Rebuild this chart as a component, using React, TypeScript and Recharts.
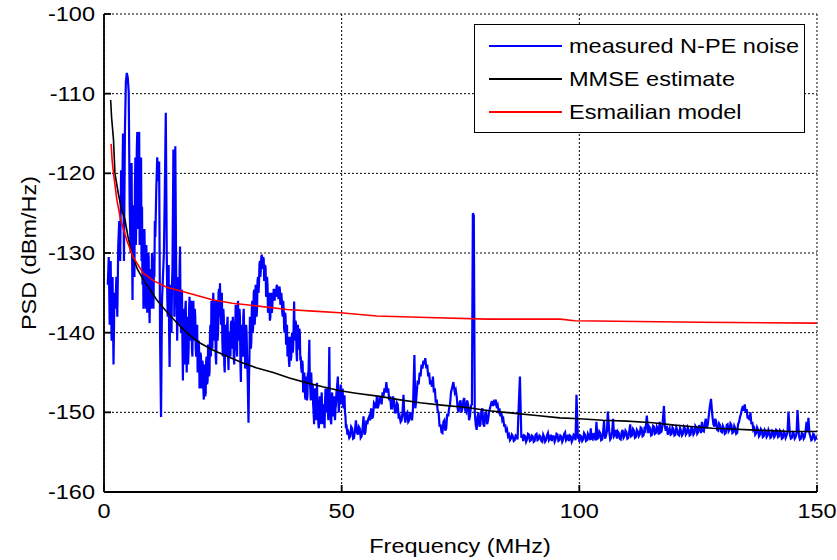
import React from 'react';
import { LineChart, Line, XAxis, YAxis, CartesianGrid, Legend } from 'recharts';

// ---- Data ----
const xTicks = [0, 50, 100, 150];
const yTicks = [-160, -150, -140, -130, -120, -110, -100];

const seriesNames = ['measured N-PE noise', 'MMSE estimate', 'Esmailian model'];
const seriesColors = ['#0000ff', '#000000', '#ff0000'];

// measured N-PE noise: [frequency MHz, PSD dBm/Hz]
const measuredNoise: [number, number][] = [
  [0.8,-134],[1.0,-130.5],[1.2,-139],[1.4,-131],[1.6,-141],[1.8,-133],[2.0,-144],[2.2,-135],[2.4,-137],[2.6,-133],[2.8,-138],[3.0,-129],
  [3.2,-126],[3.4,-131],[3.6,-119.6],[3.8,-125],[4.0,-115],[4.2,-131],[4.4,-114.8],[4.6,-108.5],[4.8,-107.4],[5.0,-108],[5.2,-109.8],[5.4,-124],[5.6,-130],
  [5.7,-121],[5.8,-118.7],[5.9,-129],[6.0,-135.9],[6.1,-126],[6.2,-124],[6.3,-131],[6.4,-133],[6.5,-122],[6.6,-118],[6.7,-129],[6.8,-126],[6.9,-117],[7.0,-114.8],[7.1,-127],[7.2,-121],[7.3,-116],[7.4,-114.8],[7.5,-129],[7.6,-126],[7.7,-120],[7.8,-118],[7.9,-131],[8.0,-124.2],[8.1,-134],[8.2,-128],[8.3,-137],
  [8.4,-133],[8.5,-127],[8.6,-130.5],[8.7,-135],[8.8,-137],[8.9,-129],[9.0,-131],[9.1,-137.5],[9.2,-136],[9.3,-130],[9.4,-130.5],[9.5,-136],[9.6,-138.8],[9.7,-133],[9.8,-132],[9.9,-137],[10.0,-135],[10.1,-130],[10.2,-131],[10.3,-136],[10.4,-137],[10.5,-132],[10.6,-133],[10.7,-126],
  [10.8,-128],[11.0,-122],[11.2,-118],[11.4,-121],[11.6,-118.5],[11.8,-140.9],[12.0,-150.6],[12.2,-136],[12.4,-133],
  [12.6,-130],[12.8,-122],[13.0,-112.4],[13.2,-130],[13.3,-135],[13.4,-138],[13.5,-133],[13.6,-131.5],[13.7,-140],[13.8,-144.3],[13.9,-137],[14.0,-134],[14.1,-139],[14.2,-140],[14.3,-134],[14.4,-132],[14.5,-125],
  [14.6,-117],[14.8,-138],[15.0,-116.6],[15.2,-134],[15.3,-137],
  [15.4,-141],[15.5,-136],[15.6,-133],[15.7,-139],[15.8,-138],[15.9,-132],[16.0,-129.2],[16.1,-137],[16.2,-140],[16.3,-135],[16.4,-134.6],[16.5,-141],[16.6,-146],[16.7,-139],[16.8,-137],[16.9,-144],[17.0,-143],[17.1,-137],[17.2,-136],[17.3,-142],[17.4,-145],[17.5,-140],[17.6,-138],[17.7,-144],[17.8,-142],[17.9,-137],
  [18.0,-135.5],[18.1,-139],[18.2,-141],[18.3,-136],[18.4,-137],[18.5,-142],[18.6,-143],[18.7,-138],[18.8,-136],[18.9,-140],[19.0,-141],[19.1,-137],[19.2,-138],[19.3,-142],[19.4,-143],[19.5,-140],[19.6,-139],[19.7,-145],
  [19.8,-144],[19.9,-141],[20.0,-142],[20.1,-147],[20.2,-146],[20.3,-142.5],[20.4,-143],[20.5,-146.5],[20.6,-147],[20.7,-143.5],[20.8,-144],[20.9,-147],[21.0,-148.4],[21.1,-144],[21.2,-145],[21.3,-148],[21.4,-147.5],[21.5,-143.5],[21.6,-143],[21.7,-146.5],[21.8,-146],[21.9,-141.5],[22.0,-142],[22.1,-145.5],[22.2,-145],[22.3,-140],[22.4,-139],[22.5,-143],
  [22.6,-136],[22.7,-141],[22.8,-142],[22.9,-136.5],[23.0,-135],[23.1,-140],[23.2,-141],[23.3,-136],[23.4,-137],[23.5,-143],[23.6,-144],[23.7,-138],[23.8,-136],[23.9,-141],[24.0,-140],[24.1,-135],[24.2,-134.5],[24.3,-138],[24.4,-133.8],[24.5,-137],[24.6,-139],[24.7,-136],[24.8,-135],[24.9,-141],[25.0,-143],[25.1,-137],[25.2,-138],[25.3,-144],[25.4,-145],[25.5,-140],
  [25.6,-139],[25.7,-142],[25.8,-143],[25.9,-139],[26.0,-138],[26.1,-143],[26.2,-144.7],[26.3,-140],[26.4,-140],[26.5,-142.5],[26.6,-143],[26.7,-139],[26.8,-138.5],[26.9,-141],[27.0,-142],[27.1,-138],[27.2,-139],[27.3,-143],[27.4,-144],[27.5,-139.5],[27.6,-140],[27.7,-136.5],
  [27.8,-137],[27.9,-142],[28.0,-143],[28.1,-137.5],[28.2,-136],[28.3,-140],[28.4,-141],[28.5,-137],[28.6,-138],[28.7,-144],[28.8,-146.2],[28.9,-140],[29.0,-139],[29.1,-142],[29.2,-143],[29.3,-138],[29.4,-137],[29.5,-140.5],[29.6,-141],[29.7,-144.5],[29.8,-144],[29.9,-139],
  [30.0,-140],[30.1,-143],[30.2,-145],[30.3,-148],[30.4,-151.3],[30.5,-146],[30.6,-143],[30.7,-138],[30.8,-139],[30.9,-142],
  [31.0,-141],[31.1,-137],[31.2,-136],[31.3,-140],[31.4,-139],[31.5,-135],[31.6,-134.6],[31.7,-139],[31.8,-138],[31.9,-134],[32.0,-135],[32.1,-138],[32.2,-137],[32.3,-133.5],[32.4,-133],[32.5,-135],
  [32.6,-134],[32.7,-131.5],[32.8,-131],[32.9,-133],[33.0,-132],[33.1,-130.5],[33.2,-130.2],[33.3,-132],[33.4,-131.5],[33.5,-130.5],[33.6,-130.8],[33.7,-133.5],[33.8,-133],[33.9,-131.5],[34.0,-132],[34.1,-135.5],[34.2,-135],
  [34.3,-133],[34.4,-134],[34.5,-137.5],[34.6,-137],[34.7,-135],[34.8,-136],[34.9,-138.5],[35.0,-138],[35.1,-135],[35.2,-135.5],[35.3,-137.5],[35.4,-137],[35.5,-135],[35.6,-136],[35.7,-134.5],
  [35.8,-135],[35.9,-136],[36.0,-134.5],[36.1,-135.5],[36.2,-135.2],[36.3,-134.2],[36.4,-134],[36.5,-135.5],[36.6,-134.3],[36.7,-135.8],[36.8,-135],[36.9,-134.2],[37.0,-134.6],[37.1,-136.5],[37.2,-136],[37.3,-135],[37.4,-135.8],[37.5,-137.5],[37.6,-138],
  [37.7,-136],[37.8,-137],[37.9,-139.5],[38.0,-140],[38.1,-137.5],[38.2,-138],[38.3,-141.5],[38.4,-141],
  [38.5,-139],[38.6,-143],[38.7,-141],[38.8,-140.5],[38.9,-143.5],[39.0,-144.3],[39.1,-140.5],[39.2,-141],[39.3,-143.5],[39.4,-143],[39.5,-140.5],[39.6,-140],[39.7,-142.5],[39.8,-142],
  [39.9,-139],[40.0,-136.1],[40.1,-140],[40.2,-141],[40.3,-138.5],[40.4,-139],[40.5,-142.5],[40.6,-143.6],[40.7,-139.5],[40.8,-139],[40.9,-142],[41.0,-142],[41.1,-139.5],[41.2,-140],[41.3,-143.5],[41.4,-143],
  [41.5,-144.5],[41.6,-145],[41.7,-143.5],[41.8,-144],[41.9,-147.5],[42.0,-147],[42.1,-145],[42.2,-145.5],[42.3,-148],[42.4,-148.4],
  [42.5,-145.5],[42.6,-146],[42.7,-148.5],[42.8,-148],[42.9,-145],[43.0,-145.5],[43.2,-140.9],[43.3,-146],[43.4,-147],[43.5,-148.5],[43.6,-145],[43.7,-147],[43.8,-148.4],
  [43.9,-146.5],[44.0,-149],[44.1,-150],[44.2,-151.5],[44.3,-148],[44.4,-147],[44.5,-150],[44.6,-151],[44.7,-148.5],[44.8,-146.3],[44.9,-149],[45.0,-150],[45.1,-151.5],[45.2,-152],[45.3,-149],[45.4,-148],[45.5,-150.5],[45.6,-151.5],[45.7,-149],[45.8,-147.5],[45.9,-149.5],[46.0,-150.5],[46.1,-151.5],[46.2,-149],[46.3,-150.5],[46.4,-152],[46.5,-149],[46.6,-147],
  [46.7,-149.5],[46.8,-150],[46.9,-148],[47.0,-147],[47.1,-150],[47.2,-151],[47.4,-141.8],[47.5,-148],[47.6,-149],[47.7,-151],[47.8,-151.5],[47.9,-148.5],[48.0,-147.5],[48.1,-150],[48.2,-150.5],[48.3,-148.5],[48.4,-148],[48.5,-150],[48.6,-151],[48.7,-149.5],[48.8,-149],[48.9,-147.5],[49.0,-147],[49.2,-145.5],[49.3,-148.5],[49.4,-150],
  [49.5,-149],[49.6,-148],[49.7,-147.5],[49.8,-146.5],[49.9,-148],[50.0,-149],[50.1,-147.5],[50.2,-147],[50.3,-149],[50.4,-149.5],[50.5,-148],[50.6,-148],[50.7,-150],[50.8,-150.5],[50.9,-152],[51.0,-151.5],[51.2,-152.8],
  [51.4,-152.5],[51.6,-153.2],[51.8,-153],[52.0,-151.8],[52.2,-152],[52.4,-153.3],[52.6,-153.2],[52.8,-152.2],[53.0,-151],[53.2,-152.5],[53.4,-152.8],[53.6,-151.8],[53.8,-152],[54.0,-153.2],[54.2,-153],[54.4,-152],[54.6,-150.5],[54.8,-152.8],[55.0,-152.5],[55.2,-151],[55.4,-151.5],[55.6,-150.8],
  [55.8,-150.5],[56.0,-151],[56.2,-149.5],[56.4,-150.8],[56.6,-150.5],[56.8,-148.8],[57.0,-149],[57.2,-149.5],[57.4,-148],[57.6,-149.5],[57.8,-149],[58.0,-148],[58.2,-148.5],[58.4,-149],[58.6,-147.5],[58.8,-148],[59.0,-147],[59.2,-147.5],[59.4,-146.2],[59.6,-147.5],[59.8,-147],[60.0,-148.5],
  [60.2,-148],[60.4,-149.5],[60.6,-149.5],[60.8,-148],[61.0,-148.5],[61.2,-150],[61.4,-150],[61.6,-148.8],[61.8,-149],[62.0,-150.8],
  [62.2,-150.5],[62.4,-151.2],[62.6,-151],[62.8,-150],[63.0,-147.8],[63.2,-150.5],[63.4,-151.3],[63.6,-150.2],[63.8,-150],[64.0,-151.2],[64.2,-151],[64.4,-150],[64.6,-150.5],[64.8,-151],
  [65.0,-149.5],[65.3,-142.8],[65.5,-149.5],[65.6,-149],[65.8,-147.5],[66.0,-146],
  [66.2,-146.5],[66.4,-145],[66.6,-145.5],[66.8,-144],[67.0,-144.5],[67.2,-143.5],[67.4,-144],[67.6,-143.2],[67.8,-144.5],[68.0,-144],[68.2,-145.5],[68.4,-145],
  [68.6,-146.5],[68.8,-146],[69.0,-146.8],[69.2,-145.5],[69.4,-147.5],[69.6,-147],[69.8,-148.8],[70.0,-148.4],
  [70.2,-149.8],[70.4,-150],[70.6,-151.8],[70.8,-151.5],[71.0,-152.5],[71.2,-152.6],[71.4,-151.2],[71.6,-151],[71.8,-152.3],[72.0,-152],[72.2,-150.2],[72.4,-150.5],[72.6,-149.5],[72.8,-149],
  [73.0,-147.5],[73.2,-147],[73.5,-146.2],[73.8,-147.5],[74.0,-147.2],[74.2,-148],[74.4,-149.5],[74.6,-150],
  [74.8,-148.8],[75.0,-148.5],[75.2,-150],[75.4,-149.5],[75.6,-148.5],[75.8,-148.2],[76.0,-149.8],[76.2,-150],[76.4,-148.5],[76.6,-149],[76.8,-151],[77.0,-150.5],[77.2,-149.2],[77.4,-149],
  [77.6,-125],[77.8,-125.3],[78.0,-150],
  [78.2,-151.5],[78.4,-152.2],[78.6,-150.5],[78.8,-150],[79.0,-151.8],[79.2,-151.5],[79.4,-149.8],[79.6,-149.5],[79.8,-151.5],[80.0,-151.8],[80.2,-150.2],[80.4,-150],[80.6,-151.5],[80.8,-151],
  [81.0,-150],[81.2,-149.5],[81.4,-149],[81.6,-148.6],[81.8,-149.2],[82.0,-148.7],[82.2,-148.9],[82.4,-148.4],[82.6,-149.2],[82.8,-149],[83.0,-149.8],[83.2,-149.5],
  [83.4,-150.5],[83.6,-150],[83.8,-151],[84.0,-150.8],[84.2,-151.8],[84.4,-151.5],[84.6,-152.5],[84.8,-152.2],[85.0,-153],[85.2,-152.8],[85.4,-153.5],[85.6,-153.3],[85.8,-152.8],[86.0,-153],[86.2,-153.6],[86.4,-153.5],[86.6,-152.9],[86.8,-153],[87.0,-153.4],
  [87.2,-150],[87.5,-145.5],[87.8,-153.2],
  [88.0,-152.8],[88.2,-153.6],[88.4,-152.9],[88.6,-153],[88.8,-153.7],[89.0,-153.4],[89.2,-152.7],[89.4,-152.8],[89.6,-153.6],[89.8,-153.5],[90.0,-152.9],[90.2,-153],[90.4,-153.7],[90.6,-153.6],[90.8,-152.8],[91.0,-152.7],[91.2,-153.5],[91.4,-153.4],[91.6,-152.9],[91.8,-153],[92.0,-153.6],[92.2,-153.7],[92.4,-152.8],[92.6,-153.1],[92.8,-153.7],[93.0,-153.5],[93.2,-152.9],[93.4,-152.6],[93.6,-153.5],[93.8,-153.3],
  [94.0,-152.8],[94.2,-153.6],[94.4,-153],[94.6,-153],[94.8,-153.7],[95.0,-153.4],[95.2,-152.7],[95.4,-152.8],[95.6,-153.6],[95.8,-153.5],[96.0,-152.9],[96.2,-153],[96.4,-153.7],[96.6,-153.4],[96.8,-152.7],[97.0,-152.5],[97.2,-153.5],[97.4,-153.3],[97.6,-152.8],[97.8,-153.6],[98.0,-152.9],[98.2,-153],[98.4,-153.7],[98.6,-153.4],[98.8,-152.8],[99.0,-152.9],[99.2,-153.5],[99.4,-147.8],[99.7,-153.3],
  [99.9,-152.8],[100.0,-153.7],[100.2,-152.9],[100.4,-153],[100.6,-153.6],[100.8,-153.4],[101.0,-152.6],[101.2,-152.8],[101.4,-153.6],[101.6,-153.5],[101.8,-152.7],[102.0,-153],[102.2,-153.5],[102.4,-152],[102.6,-153.3],[102.8,-153.4],[103.0,-152.6],[103.2,-153],[103.4,-153.5],[103.6,-151.2],[103.8,-153.3],[104.0,-153.2],[104.2,-152.4],[104.4,-152.6],[104.6,-153.5],[104.8,-153.4],[105.0,-152.5],[105.2,-151],[105.4,-153.3],[105.6,-153],[105.8,-152.4],[106.0,-149.9],[106.3,-152.5],[106.5,-153.4],[106.7,-153.2],[106.9,-152.4],[107.1,-150.8],[107.3,-153],[107.5,-152.8],[107.7,-152.2],[107.9,-153.3],[108.1,-152.4],[108.3,-152.6],[108.5,-153.3],[108.7,-153.4],[108.9,-152.5],[109.1,-152.2],[109.3,-153.2],[109.5,-153],[109.7,-152.3],[109.9,-152.5],
  [110.1,-153.3],[110.3,-153.2],[110.5,-152.4],[110.7,-151.5],[110.9,-153],[111.1,-152.9],[111.3,-152.1],[111.5,-152.3],[111.7,-153.2],[111.9,-153.1],[112.1,-152.2],[112.3,-152.4],[112.5,-153],[112.7,-152.8],[112.9,-151.9],[113.1,-152],[113.3,-153],[113.5,-152.9],[113.7,-152.1],[113.9,-152.3],[114.2,-150.4],[114.5,-152.6],[114.7,-151.8],[114.9,-152],[115.1,-152.9],[115.3,-152.8],[115.5,-151.7],[115.7,-151.8],[115.9,-152.7],[116.1,-152.6],[116.3,-151.8],[116.5,-152.1],[116.7,-152.8],[116.9,-151.2],[117.1,-152.5],[117.3,-152.4],[117.5,-151.5],[117.8,-149.2],[118.0,-151.8],[118.2,-152.3],[118.4,-151.7],[118.6,-152.8],[118.8,-152.3],[119.0,-152],[119.2,-152.8],[119.4,-152.7],[119.6,-151.9],[119.8,-152.1],
  [120.0,-152.9],[120.2,-152.8],[120.4,-151.9],[120.6,-152.2],[120.8,-152.8],[121.0,-152.9],[121.2,-152],[121.4,-152.3],[121.6,-152.9],[121.8,-152.7],[122.0,-151.8],[122.2,-152],[122.4,-152.8],[122.6,-152.6],[122.8,-151.9],[123.0,-152.2],[123.2,-152.9],[123.4,-152.8],[123.6,-151.8],[123.8,-152.1],[124.0,-152.8],[124.2,-152.6],[124.4,-151.7],[124.6,-151.9],[124.8,-152.7],[125.0,-152.5],[125.2,-151.6],[125.4,-152],[125.6,-152.6],[125.8,-151.2],[126.0,-152.3],[126.2,-152.4],[126.4,-151.4],[126.6,-150.8],[126.8,-152],[127.0,-151.6],[127.2,-150.6],[127.4,-149.5],[127.7,-148.3],[128.0,-150.5],[128.2,-151.5],[128.4,-151.8],[128.6,-150.8],[128.8,-151.2],[129.0,-152.2],[129.2,-152.3],[129.4,-151.4],[129.6,-151.6],[129.8,-152.4],
  [130.0,-152.5],[130.2,-151.7],[130.4,-152],[130.6,-152.7],[130.8,-152.6],[131.0,-151.6],[131.2,-151.5],[131.4,-152.4],[131.6,-152.2],[131.8,-151.4],[132.0,-151.6],[132.2,-152.6],[132.4,-152.5],[132.6,-151.7],[132.8,-152],[133.0,-152.7],[133.2,-152.6],[133.4,-151.5],[133.6,-151.2],[133.8,-150.6],[134.0,-150.2],[134.2,-149.6],[134.4,-149.2],[134.6,-149.8],[134.8,-149],[135.0,-150],[135.2,-149.6],[135.4,-150.8],[135.6,-150.4],[135.8,-151],[136.0,-150],[136.2,-151.5],[136.4,-151.2],[136.6,-152.2],[136.8,-152],[137.0,-152.8],[137.2,-152.6],[137.4,-151.9],[137.6,-152.2],[137.8,-153],[138.0,-152.8],[138.2,-152.1],[138.4,-152.3],[138.6,-153.1],[138.8,-153],[139.0,-152.2],[139.2,-152.4],[139.4,-153.1],[139.6,-152.9],[139.8,-152.2],
  [140.0,-152.5],[140.2,-153.2],[140.4,-153.1],[140.6,-152.3],[140.8,-152.4],[141.0,-153.1],[141.2,-152.9],[141.4,-152.2],[141.6,-152.3],[141.8,-153.1],[142.0,-153],[142.2,-152.3],[142.4,-152.5],[142.6,-153.3],[142.8,-153.2],[143.0,-152.4],[143.2,-152.6],[143.4,-153.2],[143.6,-152.9],[143.8,-152.4],[144.0,-149.9],[144.3,-152.8],[144.5,-153.3],[144.7,-153.2],[144.9,-152.5],[145.1,-152.6],[145.3,-153.3],[145.5,-153.1],[145.7,-152.6],[145.9,-149.7],[146.2,-152.9],[146.4,-153.4],[146.6,-153.3],[146.8,-152.6],[147.0,-152.7],[147.2,-153.3],[147.4,-153.1],[147.6,-152.4],[147.8,-151.2],[148.0,-152.5],[148.2,-150.7],[148.4,-152.6],[148.6,-153],[148.8,-153.5],[149.0,-153.4],[149.2,-152.7],[149.4,-152.8],[149.6,-153.4],[149.8,-153.2],[150.0,-153],
];

// MMSE estimate
const mmseEstimate: [number, number][] = [
  [1.4,-110.8],[1.6,-113],[2.0,-115.8],[2.3,-120],[3.0,-122.5],[3.6,-124.3],[4.4,-125.8],[5.0,-127.8],[5.8,-130],[7.0,-132],[8.5,-133.6],[9.7,-134.6],
  [11,-135.8],[12.5,-136.9],[14,-137.9],[16,-139.2],[18,-140.3],[20.2,-141.3],[23,-142.2],[26,-143],[29.2,-143.8],[32,-144.4],[35.6,-145],[39,-145.7],[42.7,-146.3],[46,-146.8],[49.7,-147.3],
  [53,-147.6],[58,-148],[62,-148.4],[66.5,-148.8],[71,-149.1],[76.4,-149.4],[81,-149.8],[86,-150.1],[91,-150.4],[95.9,-150.7],[100,-150.8],[105,-151],[110,-151.1],[115.5,-151.3],
  [120,-151.6],[124,-151.8],[128,-152],[132,-152.1],[136,-152.2],[140,-152.3],[144.3,-152.4],[150,-152.4],
];

// Esmailian model
const esmailianModel: [number, number][] = [
  [1.5,-116.3],[1.7,-118.3],[2.0,-120],[2.7,-123.3],[3.5,-125.8],[4.8,-128.4],[6.1,-130.5],[8.2,-132.5],[10.5,-133.5],[13.2,-134.3],[17.5,-135],[23,-135.9],[27,-136.3],[31.4,-136.6],
  [38.5,-137.1],[44,-137.3],[49.7,-137.5],[57.4,-137.9],[68,-138.1],[80.6,-138.3],[96,-138.3],[99,-138.5],[125.4,-138.7],[150,-138.8],
];

const toRows = (arr: [number, number][]) => arr.map(([f, v]) => ({ f, v }));

const FONT = '"Liberation Sans", Arial, Helvetica, sans-serif';
const FS = 21;
const SX = 1.12;

const YTick = (props: any) => (
  <text
    transform={`translate(95,${props.y + 7}) scale(${SX},1)`}
    textAnchor="end"
    fontSize={FS}
    fontFamily={FONT}
    fill="#000"
  >
    {props.payload.value}
  </text>
);

const XTick = (props: any) => (
  <text
    transform={`translate(${props.x},518) scale(${SX},1)`}
    textAnchor="middle"
    fontSize={FS}
    fontFamily={FONT}
    fill="#000"
  >
    {props.payload.value}
  </text>
);

const EmptyTick = () => <g />;

const XLabel = () => (
  <text
    transform={`translate(460,553) scale(${SX},1)`}
    textAnchor="middle"
    fontSize={FS}
    fontFamily={FONT}
    fill="#000"
  >
    Frequency (MHz)
  </text>
);

const YLabel = () => (
  <text
    transform={`translate(36,253) rotate(-90) scale(${SX},1)`}
    textAnchor="middle"
    fontSize={FS}
    fontFamily={FONT}
    fill="#000"
  >
    PSD (dBm/Hz)
  </text>
);

const LegendBox = () => (
  <div
    style={{
      width: 331,
      height: 109,
      boxSizing: 'border-box',
      border: '1.5px solid #000',
      background: '#fff',
      paddingTop: 4,
      fontFamily: FONT,
      fontSize: FS,
    }}
  >
    {seriesNames.map((name, i) => (
      <div key={name} style={{ display: 'flex', alignItems: 'center', height: 33 }}>
        <div style={{ marginLeft: 14, width: 73, height: 2, backgroundColor: seriesColors[i], flexShrink: 0 }} />
        <span
          style={{
            marginLeft: 7,
            color: '#000',
            whiteSpace: 'nowrap',
            display: 'inline-block',
            transform: `scaleX(${SX})`,
            transformOrigin: 'left center',
          }}
        >
          {name}
        </span>
      </div>
    ))}
  </div>
);

export default function App() {
  return (
    <div style={{ position: 'absolute', left: 0, top: 0 }}>
      <LineChart width={837} height={560} margin={{ top: 14, right: 20, left: 0, bottom: 0 }}>
        <CartesianGrid stroke="#000" strokeDasharray="2 2" strokeWidth={1} />
        <XAxis
          dataKey="f"
          type="number"
          domain={[0, 150]}
          ticks={xTicks}
          allowDataOverflow
          height={68}
          stroke="#000"
          strokeWidth={1.8}
          tickSize={-7}
          tick={<XTick />}
          label={<XLabel />}
        />
        <XAxis
          xAxisId="top"
          orientation="top"
          type="number"
          domain={[0, 150]}
          ticks={xTicks}
          height={0}
          stroke="#000"
          strokeWidth={1.8}
          tickSize={-7}
          tick={<EmptyTick />}
        />
        <YAxis
          type="number"
          domain={[-160, -100]}
          ticks={yTicks}
          allowDataOverflow
          width={104}
          stroke="#000"
          strokeWidth={1.8}
          tickSize={-7}
          tick={<YTick />}
          label={<YLabel />}
        />
        <YAxis
          yAxisId="right"
          orientation="right"
          type="number"
          domain={[-160, -100]}
          ticks={yTicks}
          width={0}
          stroke="#000"
          strokeWidth={1.8}
          tickSize={-7}
          tick={<EmptyTick />}
        />
        <Line
          data={toRows(measuredNoise)}
          dataKey="v"
          name={seriesNames[0]}
          stroke={seriesColors[0]}
          strokeWidth={2.2}
          dot={false}
          type="linear"
          isAnimationActive={false}
        />
        <Line
          data={toRows(mmseEstimate)}
          dataKey="v"
          name={seriesNames[1]}
          stroke={seriesColors[1]}
          strokeWidth={1.6}
          dot={false}
          type="linear"
          isAnimationActive={false}
        />
        <Line
          data={toRows(esmailianModel)}
          dataKey="v"
          name={seriesNames[2]}
          stroke={seriesColors[2]}
          strokeWidth={1.6}
          dot={false}
          type="linear"
          isAnimationActive={false}
        />
        <Legend
          layout="vertical"
          align="center"
          verticalAlign="middle"
          content={<LegendBox />}
          wrapperStyle={{ left: 474, top: 24, width: 331, height: 109 }}
        />
      </LineChart>
    </div>
  );
}
